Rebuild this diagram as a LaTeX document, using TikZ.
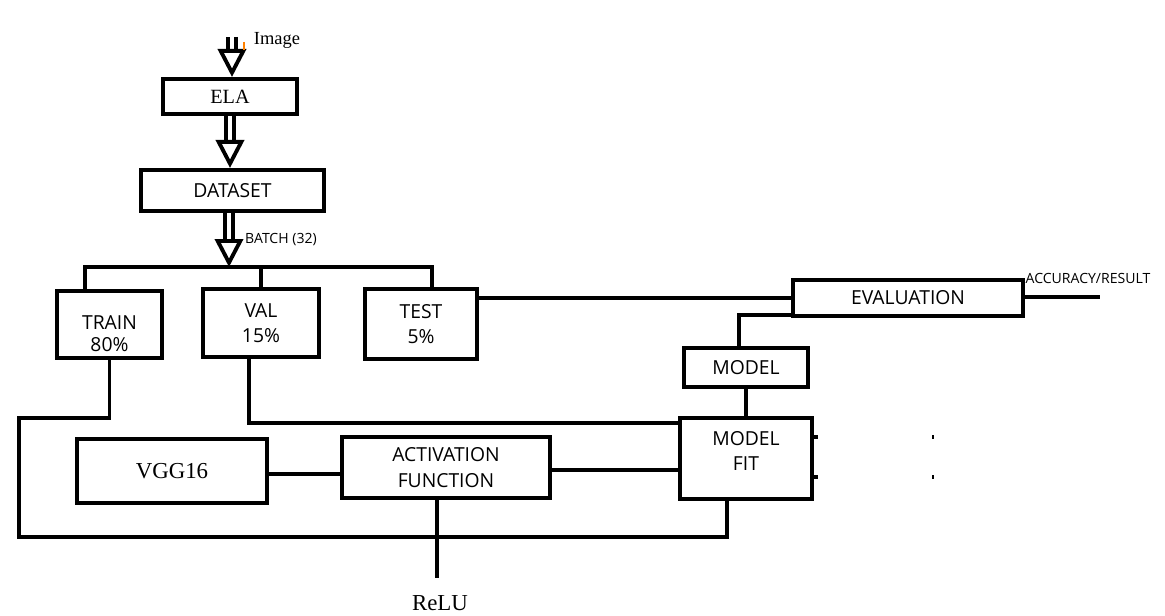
\documentclass[tikz,border=0pt]{standalone}
\usepackage{fontspec}
\setmainfont{Liberation Serif}
\setsansfont{Open Sans}
\usetikzlibrary{arrows.meta}

\begin{document}
\begin{tikzpicture}[
    x=0.02cm, y=-0.02cm,
    box/.style={rectangle, draw, line width=2.3pt, align=center, inner sep=0pt, font=\sffamily\fontsize{11}{14.5}\selectfont},
    serifbox/.style={box, font=\fontsize{11.5}{13}\selectfont},
    wire/.style={line width=2.2pt},
    bigarrow/.style={double, line width=2.2pt, double distance=2.6pt, -{Triangle[open, length=0.56cm, width=0.56cm, line width=2.2pt]}},
    tag/.style={inner sep=0pt, font=\sffamily\fontsize{8}{9}\selectfont}
]
    \useasboundingbox (0,0) rectangle (1165,615);

    \node[serifbox, minimum width=2.68cm, minimum height=0.70cm] (ela) at (230,96.5) {ELA};
    \node[box, minimum width=3.66cm, minimum height=0.82cm] (dataset) at (232.5,190.5) {DATASET};
    \node[box, minimum width=2.10cm, minimum height=1.34cm] (train) at (109.5,324.5) {\mbox{}\\[4.2pt]TRAIN\\[-2pt]80\%};
    \node[box, minimum width=2.32cm, minimum height=1.36cm] (val) at (261,323) {VAL\\15\%};
    \node[box, minimum width=2.24cm, minimum height=1.40cm] (test) at (421,324) {TEST\\5\%};
    \node[box, minimum width=4.60cm, minimum height=0.72cm] (eval) at (908,298) {EVALUATION};
    \node[box, minimum width=2.48cm, minimum height=0.78cm] (model) at (746,367.5) {MODEL};
    \node[box, minimum width=2.64cm, minimum height=1.62cm] (fit) at (746,458.5) {MODEL\\FIT\\[-6pt]\mbox{}};
    \node[serifbox, font=\fontsize{13}{15}\selectfont, minimum width=3.80cm, minimum height=1.28cm] (vgg) at (172,471) {VGG16};
    \node[box, minimum width=4.16cm, minimum height=1.22cm] (act) at (446,467.5) {ACTIVATION\\FUNCTION};

    \node[inner sep=0pt, font=\fontsize{10.5}{12}\selectfont] (image) at (277,40) {Image};
    \node[tag] (batch) at (281,240) {BATCH (32)};
    \node[tag] (result) at (1088,278) {ACCURACY/RESULT};
    \node[inner sep=0pt, font=\fontsize{13}{15}\selectfont] (relu) at (440,603) {ReLU};

    \coordinate (imgtop) at (232,37);
    \coordinate (split) at (229,267);
    \coordinate (busL) at (85,267);
    \coordinate (busR) at (432,267);
    \coordinate (loopT) at (19,418);
    \coordinate (loopB) at (19,537);
    \coordinate (out) at (1100,297);
    \coordinate (reluend) at (437,578);

    % input chain
    \draw[bigarrow] (imgtop) -- (imgtop |- ela.north);
    \draw[bigarrow] (ela.south) -- (ela.south |- dataset.north);
    \draw[bigarrow] (dataset.south -| split) -- (split);
    \draw[orange, line width=0.6pt] (244,42) -- (244,50);

    % split into train / val / test
    \draw[wire] (train.north -| busL) |- (busR) -- (test.north -| busR);
    \draw[wire] (val.north) -- (val.north |- busL);

    % test and model to evaluation
    \draw[wire] (eval.west -| test.east) -- (eval.west);
    \draw[wire] (eval.east |- out) -- (out);
    \draw[wire] ([xshift=-0.14cm]model.north) |- ([yshift=0.06cm]eval.south west);
    \draw[wire] (model.south) -- (fit.north);

    % training loop
    \draw[wire] ([xshift=-0.24cm]val.south) |- ([yshift=0.71cm]fit.west);
    \draw[wire] (train.south) |- (loopT) -- (loopB) -| ([xshift=-0.38cm]fit.south);
    \draw[wire] (vgg.east |- 0,474) -- (act.west |- 0,474);
    \draw[wire] (act.east |- 0,470) -- (fit.west |- 0,470);
    \draw[wire] (act.south -| reluend) -- (reluend);

    % stubs on the right of model fit
    \draw[wire] (fit.east |- 0,437) -- ++(4,0);
    \draw[wire] (fit.east |- 0,477) -- ++(4,0);
    \draw[line width=0.6pt] (933,435) -- (933,439);
    \draw[line width=0.6pt] (933,475) -- (933,479);
\end{tikzpicture}
\end{document}
